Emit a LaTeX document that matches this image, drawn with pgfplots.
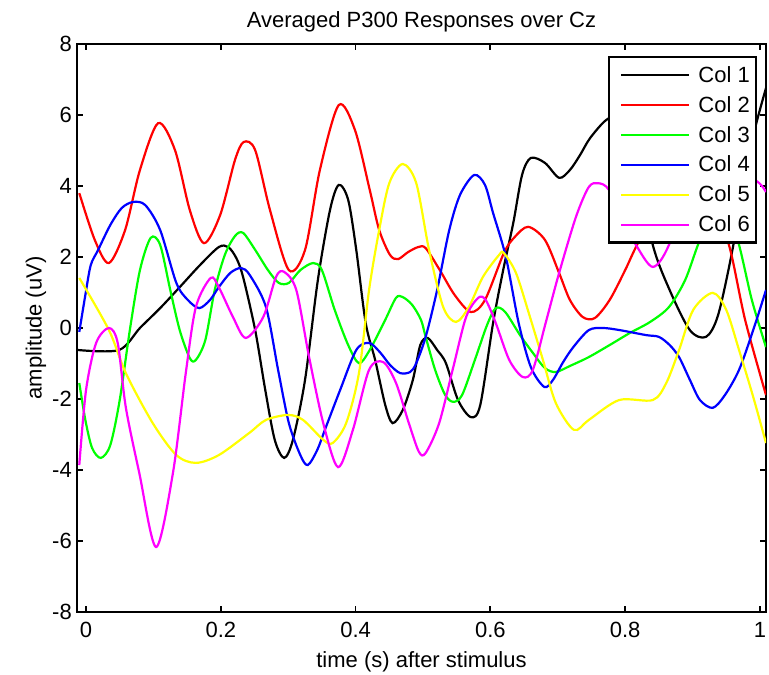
\documentclass[border=0pt]{standalone}
\usepackage{pgfplots}
\pgfplotsset{compat=1.18}
\usepackage{fontspec}
\setmainfont{Liberation Sans}
\usetikzlibrary{calc}
\newcommand{\F}{\fontsize{22}{26}\selectfont}
\definecolor{cA}{rgb}{0,0,0}
\definecolor{cB}{rgb}{1,0,0}
\definecolor{cC}{rgb}{0,1,0}
\definecolor{cD}{rgb}{0,0,1}
\definecolor{cE}{rgb}{1,1,0}
\definecolor{cF}{rgb}{1,0,1}
\begin{document}
\begin{tikzpicture}
\begin{axis}[
  scale only axis,
  width=689pt, height=568pt,
  xmin=-0.0134, xmax=1.009,
  ymin=-8, ymax=8,
  xtick={0,0.2,0.4,0.6,0.8,1},
  ytick={-8,-6,-4,-2,0,2,4,6,8},
  /pgf/number format/assume math mode=true,
  tick align=inside,
  major tick length=6pt,
  every tick/.style={black, line width=1.8pt},
  axis line style={line width=2.6pt},
  tick label style={font=\F},
  xticklabel style={inner sep=1pt, yshift=-9pt},
  yticklabel style={inner sep=1pt, xshift=-4pt},
  title={Averaged P300 Responses over Cz},
  title style={font=\F, inner sep=1pt, at={(axis description cs:0.5,1)}, anchor=center, yshift=16pt},
  xlabel={time (s) after stimulus},
  xlabel style={font=\F, inner sep=1pt, at={(axis description cs:0.5,0)}, anchor=center, yshift=-50pt},
  ylabel={amplitude (uV)},
  ylabel style={font=\F, inner sep=1pt, at={(axis description cs:0,0.5)}, anchor=center, yshift=41pt},
  legend style={font=\F, at={(axis description cs:1,1)}, anchor=north east, xshift=-9pt, yshift=-12pt, draw=black, line width=2.4pt, fill=white, row sep=8.5pt, inner xsep=4pt, inner ysep=7pt},
  legend cell align=left,
  legend image code/.code={\draw[#1] (7pt,0pt) -- (75pt,0pt); \path (0pt,0pt) (81pt,0pt);},
  every axis plot/.append style={line width=2.2pt, smooth, no marks},
]
% Col 1
\addplot[cA] coordinates {
(-0.012,-0.62) (0.049,-0.62) (0.080,0) (0.110,0.56) (0.139,1.15) (0.169,1.77) (0.197,2.28) (0.211,2.28) (0.223,1.97) (0.233,1.44) (0.251,-0.06) (0.266,-1.75) (0.280,-3.15) (0.294,-3.66) (0.307,-3.15) (0.325,-1.46) (0.344,1.35) (0.362,3.32) (0.375,4.03) (0.389,3.61) (0.401,2.20) (0.415,0.14) (0.429,-0.90) (0.444,-2.17) (0.455,-2.68) (0.470,-2.31) (0.485,-1.46) (0.496,-0.48) (0.507,-0.28) (0.521,-0.62) (0.534,-0.99) (0.552,-2.03) (0.571,-2.51) (0.585,-2.17) (0.604,0.14) (0.619,1.63) (0.634,2.96) (0.647,4.31) (0.660,4.79) (0.681,4.65) (0.702,4.23) (0.718,4.45) (0.733,4.87) (0.748,5.35) (0.772,5.86) (0.792,5.92) (0.815,4.73) (0.841,2.34) (0.866,1.07) (0.896,-0.06) (0.920,-0.25) (0.938,0.37) (0.960,2.28) (0.985,5.01) (1.009,6.76)
};
\addlegendentry{Col 1}
% Col 2
\addplot[cB] coordinates {
(-0.010,3.80) (0.013,2.48) (0.034,1.83) (0.058,2.76) (0.080,4.45) (0.107,5.77) (0.132,5.01) (0.154,3.32) (0.175,2.39) (0.199,3.18) (0.221,4.73) (0.234,5.24) (0.251,5.01) (0.273,3.32) (0.301,1.63) (0.325,2.20) (0.347,4.45) (0.375,6.28) (0.399,5.58) (0.421,3.89) (0.435,2.76) (0.451,2.06) (0.463,1.94) (0.478,2.14) (0.493,2.28) (0.504,2.25) (0.525,1.63) (0.547,0.93) (0.571,0.45) (0.592,0.79) (0.620,2.11) (0.636,2.56) (0.656,2.85) (0.681,2.48) (0.702,1.55) (0.718,0.79) (0.737,0.31) (0.755,0.28) (0.777,0.79) (0.800,1.63) (0.816,2.28) (0.852,3.61) (0.889,4.17) (0.926,3.61) (0.954,2.34) (0.978,0.23) (1.009,-1.89)
};
\addlegendentry{Col 2}
% Col 3
\addplot[cC] coordinates {
(-0.010,-1.55) (-0.001,-2.59) (0.009,-3.38) (0.022,-3.66) (0.036,-3.30) (0.050,-2.03) (0.065,-0.06) (0.080,1.63) (0.096,2.54) (0.110,2.34) (0.125,1.07) (0.139,-0.06) (0.154,-0.85) (0.163,-0.90) (0.177,-0.34) (0.191,1.07) (0.206,2.06) (0.221,2.59) (0.233,2.68) (0.251,2.20) (0.270,1.63) (0.286,1.27) (0.301,1.27) (0.318,1.63) (0.337,1.83) (0.350,1.63) (0.369,0.51) (0.389,-0.48) (0.405,-0.99) (0.421,-0.62) (0.444,0.23) (0.460,0.85) (0.470,0.87) (0.484,0.65) (0.497,0.23) (0.504,-0.25) (0.518,-1.18) (0.533,-1.89) (0.545,-2.08) (0.558,-1.89) (0.577,-0.90) (0.595,0.08) (0.608,0.56) (0.622,0.45) (0.644,-0.20) (0.663,-0.70) (0.681,-1.13) (0.697,-1.24) (0.718,-1.07) (0.746,-0.82) (0.777,-0.48) (0.807,-0.14) (0.837,0.17) (0.865,0.59) (0.889,1.35) (0.909,2.39) (0.933,3.46) (0.953,3.18) (0.969,2.34) (0.988,0.79) (1.009,-0.54)
};
\addlegendentry{Col 3}
% Col 4
\addplot[cD] coordinates {
(-0.010,-0.11) (-0.001,0.93) (0.007,1.77) (0.018,2.20) (0.036,2.90) (0.053,3.38) (0.070,3.55) (0.088,3.46) (0.110,2.76) (0.134,1.27) (0.151,0.79) (0.168,0.56) (0.184,0.79) (0.197,1.15) (0.214,1.55) (0.230,1.69) (0.243,1.49) (0.267,0.59) (0.285,-1.18) (0.301,-2.68) (0.318,-3.58) (0.329,-3.86) (0.343,-3.44) (0.356,-2.79) (0.377,-1.75) (0.401,-0.62) (0.420,-0.42) (0.436,-0.68) (0.451,-1.04) (0.466,-1.27) (0.481,-1.24) (0.490,-0.99) (0.504,-0.25) (0.521,1.07) (0.539,2.76) (0.555,3.75) (0.576,4.31) (0.592,4.03) (0.604,3.24) (0.623,2.00) (0.642,0.14) (0.660,-1.10) (0.680,-1.66) (0.693,-1.46) (0.708,-0.96) (0.723,-0.54) (0.746,-0.06) (0.767,0) (0.792,-0.06) (0.831,-0.20) (0.850,-0.25) (0.866,-0.48) (0.880,-0.82) (0.896,-1.46) (0.911,-2.03) (0.930,-2.25) (0.948,-1.89) (0.969,-1.18) (0.990,-0.06) (1.009,1.07)
};
\addlegendentry{Col 4}
% Col 5
\addplot[cE] coordinates {
(-0.010,1.41) (0.034,-0.06) (0.059,-1.27) (0.099,-2.68) (0.134,-3.58) (0.163,-3.80) (0.197,-3.58) (0.242,-2.96) (0.267,-2.59) (0.300,-2.45) (0.322,-2.59) (0.352,-3.15) (0.366,-3.24) (0.386,-2.68) (0.405,-1.27) (0.420,1.07) (0.435,2.76) (0.450,4.08) (0.470,4.62) (0.490,4.08) (0.509,2.20) (0.530,0.59) (0.549,0.17) (0.568,0.59) (0.589,1.44) (0.613,2.06) (0.620,2.11) (0.638,1.55) (0.657,0.42) (0.678,-0.90) (0.697,-2.11) (0.724,-2.87) (0.746,-2.59) (0.791,-2.03) (0.841,-2.03) (0.861,-1.55) (0.880,-0.62) (0.901,0.51) (0.930,0.99) (0.950,0.51) (0.969,-0.62) (0.990,-1.94) (1.009,-3.24)
};
\addlegendentry{Col 5}
% Col 6
\addplot[cF] coordinates {
(-0.010,-3.86) (0.000,-1.75) (0.015,-0.42) (0.034,0) (0.047,-0.42) (0.059,-2.23) (0.079,-4.08) (0.104,-6.17) (0.129,-4.08) (0.148,-1.27) (0.163,0.59) (0.185,1.41) (0.197,1.15) (0.218,0.31) (0.237,-0.28) (0.263,0.31) (0.282,1.44) (0.294,1.58) (0.312,1.07) (0.331,-0.82) (0.352,-2.68) (0.374,-3.92) (0.396,-2.87) (0.420,-1.18) (0.441,-0.96) (0.460,-1.55) (0.479,-2.68) (0.494,-3.49) (0.504,-3.52) (0.524,-2.68) (0.545,-1.10) (0.564,0.31) (0.582,0.85) (0.593,0.79) (0.608,0.14) (0.628,-0.90) (0.648,-1.38) (0.663,-1.18) (0.682,0.14) (0.702,1.55) (0.727,3.13) (0.746,3.97) (0.760,4.08) (0.776,3.89) (0.800,2.90) (0.816,2.34) (0.841,1.72) (0.865,2.34) (0.896,4.17) (0.926,4.73) (0.970,4.45) (0.999,4.08) (1.009,3.83)
};
\addlegendentry{Col 6}
\end{axis}
\path ($(current axis.south west)+(-77pt,-63pt)$) rectangle ($(current axis.north east)+(3pt,44pt)$);
\end{tikzpicture}
\end{document}
